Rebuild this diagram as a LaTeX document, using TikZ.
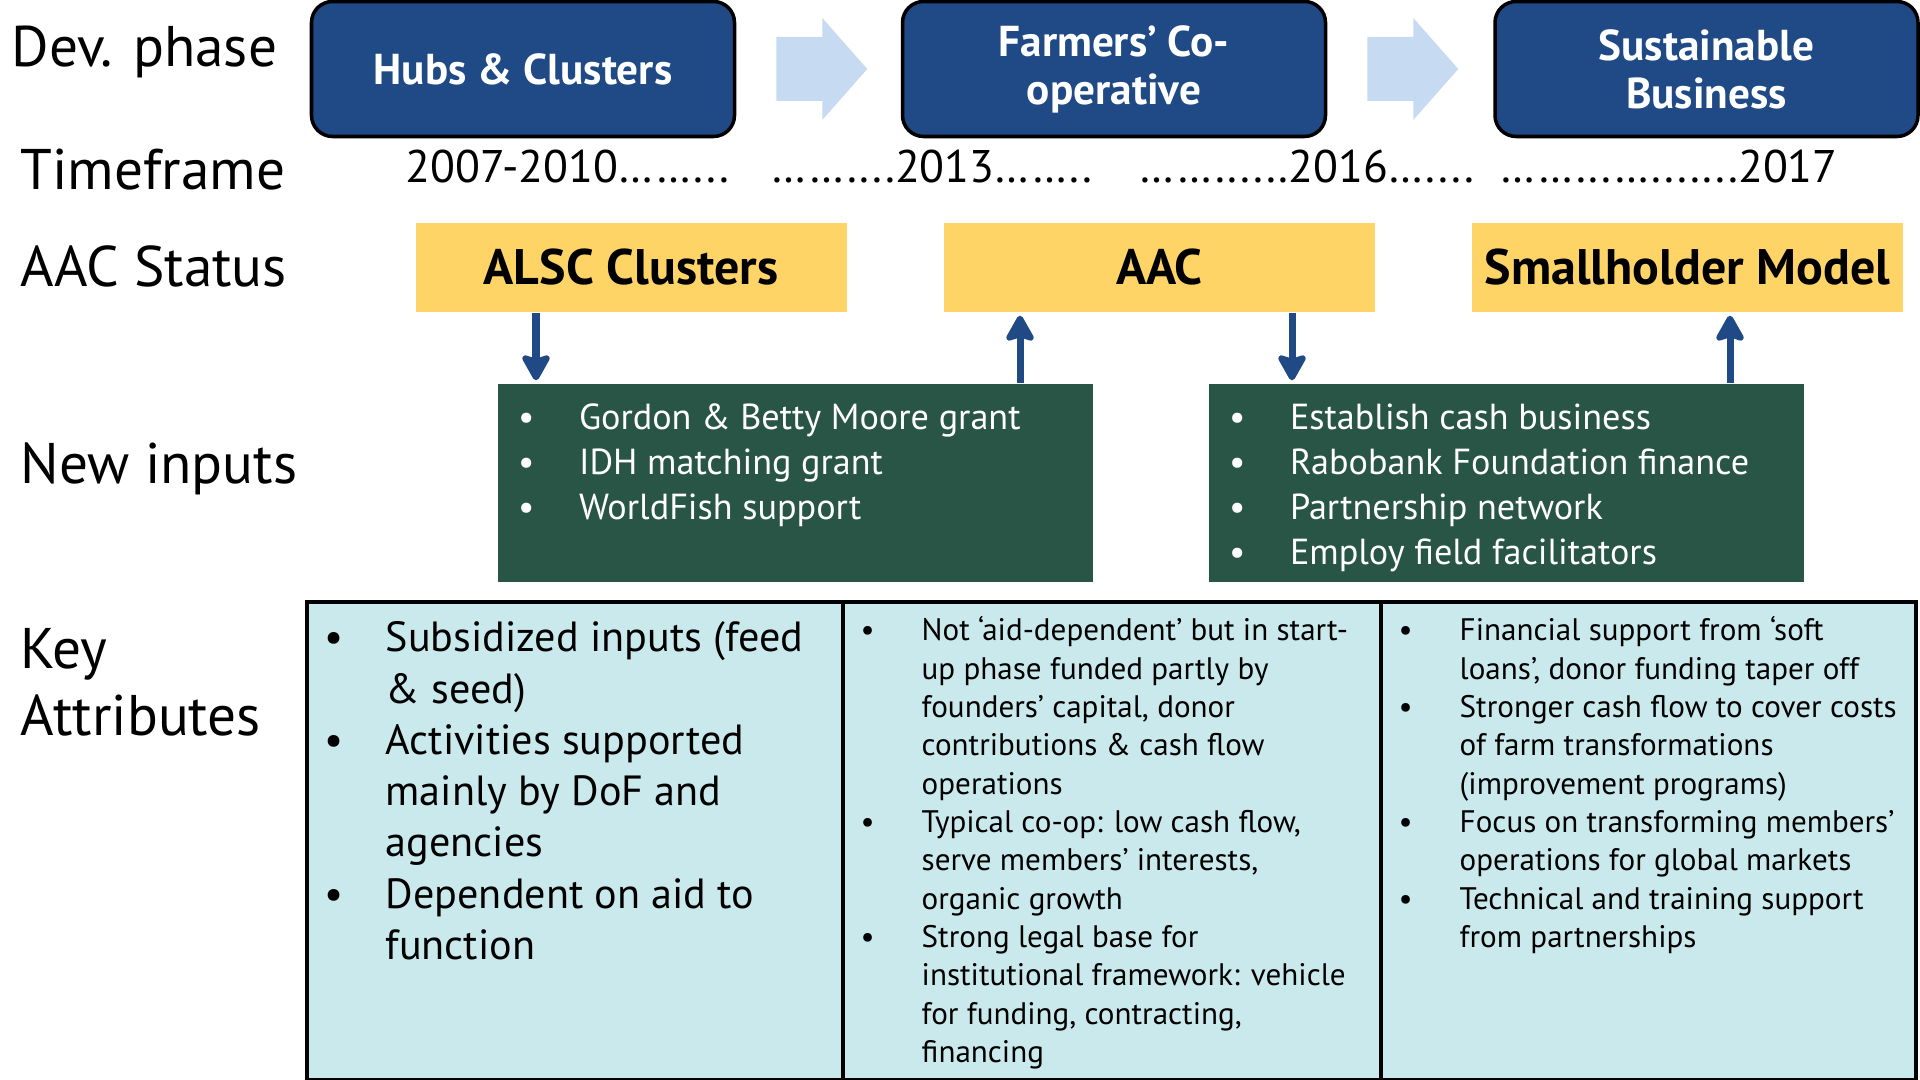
\documentclass[tikz,border=0pt]{standalone}
\usepackage{fontspec}
\setmainfont{PT Sans}
\usetikzlibrary{positioning,calc,arrows.meta}

\definecolor{phaseblue}{HTML}{1F4A86}
\definecolor{chevronblue}{HTML}{C6DAF2}
\definecolor{statusyellow}{HTML}{FFD466}
\definecolor{inputgreen}{HTML}{285546}
\definecolor{attrcyan}{HTML}{C9E9EC}

\newcommand{\bl}{\makebox[0.61cm][l]{\textbullet}}
\newcommand{\ind}{\hspace*{0.61cm}}

\begin{document}
\begin{tikzpicture}[
row_label/.style={anchor=base west, inner sep=0pt, align=left, font=\fontsize{16.3}{19}\selectfont},
phase/.style={rectangle, rounded corners=6pt, draw=black, line width=1pt, fill=phaseblue, text=white, minimum width=4.23cm, minimum height=1.35cm, align=center, font=\bfseries\fontsize{12.3}{13.6}\selectfont},
year_text/.style={anchor=base west, inner sep=0pt, font=\fontsize{13}{15}\selectfont},
status/.style={rectangle, fill=statusyellow, minimum width=4.31cm, minimum height=0.89cm, font=\bfseries\fontsize{14.2}{16}\selectfont},
inputs/.style={rectangle, fill=inputgreen, minimum width=5.95cm, minimum height=1.98cm},
input_text/.style={anchor=north west, inner sep=0pt, text=white, align=left, font=\fontsize{10.3}{12.8}\selectfont},
cell/.style={rectangle, draw=black, line width=1pt, fill=attrcyan, anchor=north west, inner sep=0pt, minimum height=4.78cm},
big_text/.style={anchor=north west, inner sep=0pt, align=left, font=\fontsize{12}{14.6}\selectfont},
small_text/.style={anchor=north west, inner sep=0pt, align=left, font=\fontsize{8.85}{10.9}\selectfont},
chevron/.style={fill=chevronblue},
out_arrow/.style={-{Stealth[length=0.3cm,width=0.33cm,inset=0.05cm,round]}, draw=phaseblue, line width=2pt, shorten >=0.03cm},
in_arrow/.style={{Stealth[length=0.3cm,width=0.33cm,inset=0.05cm,round]}-, draw=phaseblue, line width=2pt, shorten <=0.03cm}
]
\useasboundingbox (0,0) rectangle (19.2,-10.8);

% row labels
\node[row_label](lab_phase) at (0.11,-0.67) {Dev. phase};
\node[row_label](lab_time) at (0.20,-1.90) {Timeframe};
\node[row_label](lab_status) at (0.20,-2.87) {AAC Status};
\node[row_label](lab_inputs) at (0.20,-4.84) {New inputs};
\node[row_label, anchor=west](lab_attr) at (0.20,-6.82) {Key\\Attributes};

% development phases
\node[phase](hubs) at (5.23,-0.69) {Hubs \& Clusters};
\node[phase](coop) at (11.14,-0.69) {Farmers’ Co-\\operative};
\node[phase](business) at (17.065,-0.69) {Sustainable\\Business};

\fill[chevron] ($(hubs.east)+(0.40,0.32)$) -- ++(0.46,0) -- ++(0,0.19) -- ++(0.45,-0.51) -- ++(-0.45,-0.51) -- ++(0,0.19) -- ++(-0.46,0) -- cycle;
\fill[chevron] ($(coop.east)+(0.40,0.32)$) -- ++(0.46,0) -- ++(0,0.19) -- ++(0.45,-0.51) -- ++(-0.45,-0.51) -- ++(0,0.19) -- ++(-0.46,0) -- cycle;

% timeframe
\node[year_text](year_a) at (4.05,-1.83) {2007-2010……...};
\node[year_text](year_b) at (7.71,-1.83) {……....2013……..};
\node[year_text](year_c) at (11.39,-1.83) {……......2016…....};
\node[year_text](year_d) at (15.00,-1.83) {……...….......2017};

% AAC status
\node[status](alsc) at (6.31,-2.675) {ALSC Clusters};
\node[status](aac) at (11.595,-2.675) {AAC};
\node[status](smallholder) at (16.875,-2.675) {Smallholder Model};

% new inputs
\node[inputs](grants) at (7.955,-4.83) {};
\node[inputs](finance) at (15.065,-4.83) {};
\node[input_text](grants_text) at ([xshift=0.20cm,yshift=-0.20cm]grants.north west) {\bl Gordon \& Betty Moore grant\\\bl IDH matching grant\\\bl WorldFish support};
\node[input_text](finance_text) at ([xshift=0.20cm,yshift=-0.20cm]finance.north west) {\bl Establish cash business\\\bl Rabobank Foundation finance\\\bl Partnership network\\\bl Employ field facilitators};

\draw[out_arrow]([xshift=-0.95cm]alsc.south) to [] ([xshift=-0.95cm]alsc.south |- grants.north);
\draw[in_arrow]([xshift=-1.395cm]aac.south) to [] ([xshift=-1.395cm]aac.south |- grants.north);
\draw[out_arrow]([xshift=1.325cm]aac.south) to [] ([xshift=1.325cm]aac.south |- finance.north);
\draw[in_arrow]([xshift=0.425cm]smallholder.south) to [] ([xshift=0.425cm]smallholder.south |- finance.north);

% key attributes
\node[cell, minimum width=5.36cm](cell_a) at (3.05,-6.00) {};
\node[cell, minimum width=5.38cm](cell_b) at (8.41,-6.00) {};
\node[cell, minimum width=5.35cm](cell_c) at (13.79,-6.00) {};

\node[big_text](attr_a) at ([xshift=0.19cm,yshift=-0.21cm]cell_a.north west) {\bl Subsidized inputs (feed\\\ind \& seed)\\\bl Activities supported\\\ind mainly by DoF and\\\ind agencies\\\bl Dependent on aid to\\\ind function};
\node[small_text](attr_b) at ([xshift=0.19cm,yshift=-0.16cm]cell_b.north west) {\bl Not ‘aid-dependent’ but in start-\\\ind up phase funded partly by\\\ind founders’ capital, donor\\\ind contributions \& cash flow\\\ind operations\\\bl Typical co-op: low cash flow,\\\ind serve members’ interests,\\\ind organic growth\\\bl Strong legal base for\\\ind institutional framework: vehicle\\\ind for funding, contracting,\\\ind financing};
\node[small_text](attr_c) at ([xshift=0.19cm,yshift=-0.16cm]cell_c.north west) {\bl Financial support from ‘soft\\\ind loans’, donor funding taper off\\\bl Stronger cash flow to cover costs\\\ind of farm transformations\\\ind (improvement programs)\\\bl Focus on transforming members’\\\ind operations for global markets\\\bl Technical and training support\\\ind from partnerships};
\end{tikzpicture}
\end{document}
